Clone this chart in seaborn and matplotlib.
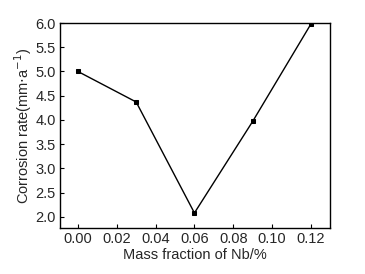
import matplotlib
matplotlib.use("Agg")
import matplotlib.pyplot as plt
import seaborn as sns
import pandas as pd

nb_fraction = [0.00, 0.03, 0.06, 0.09, 0.12]
corrosion_rate = [5.00, 4.37, 2.08, 3.97, 5.98]

df = pd.DataFrame({'nb': nb_fraction, 'rate': corrosion_rate})

sns.set_style('ticks')
plt.rcParams['font.family'] = ['Liberation Sans', 'DejaVu Sans']
plt.rcParams['xtick.direction'] = 'in'
plt.rcParams['ytick.direction'] = 'in'

fig = plt.figure(figsize=(3.65, 2.74), dpi=100)
ax = fig.add_axes([0.164, 0.168, 0.740, 0.748])

sns.lineplot(data=df, x='nb', y='rate', ax=ax, color='black', linewidth=1.0,
             marker='s', markersize=3.5, markeredgecolor='black')

ax.set_xlim(-0.0093, 0.1298)
ax.set_ylim(1.77, 6.0)
ax.set_xticks([0.00, 0.02, 0.04, 0.06, 0.08, 0.10, 0.12])
ax.set_xticklabels(['0.00', '0.02', '0.04', '0.06', '0.08', '0.10', '0.12'])
ax.set_yticks([2.0, 2.5, 3.0, 3.5, 4.0, 4.5, 5.0, 5.5, 6.0])
ax.tick_params(labelsize=10.5, length=3, width=0.8, color='black', pad=3)
for s in ax.spines.values():
    s.set_linewidth(1.0)
    s.set_color('black')

ax.set_xlabel('Mass fraction of Nb/%', fontsize=10.5, labelpad=1)
ax.set_ylabel('Corrosion rate(mm$\\cdot$a$^{-1}$)', fontsize=10.5, labelpad=1)

fig.savefig('out.png', dpi=100)
